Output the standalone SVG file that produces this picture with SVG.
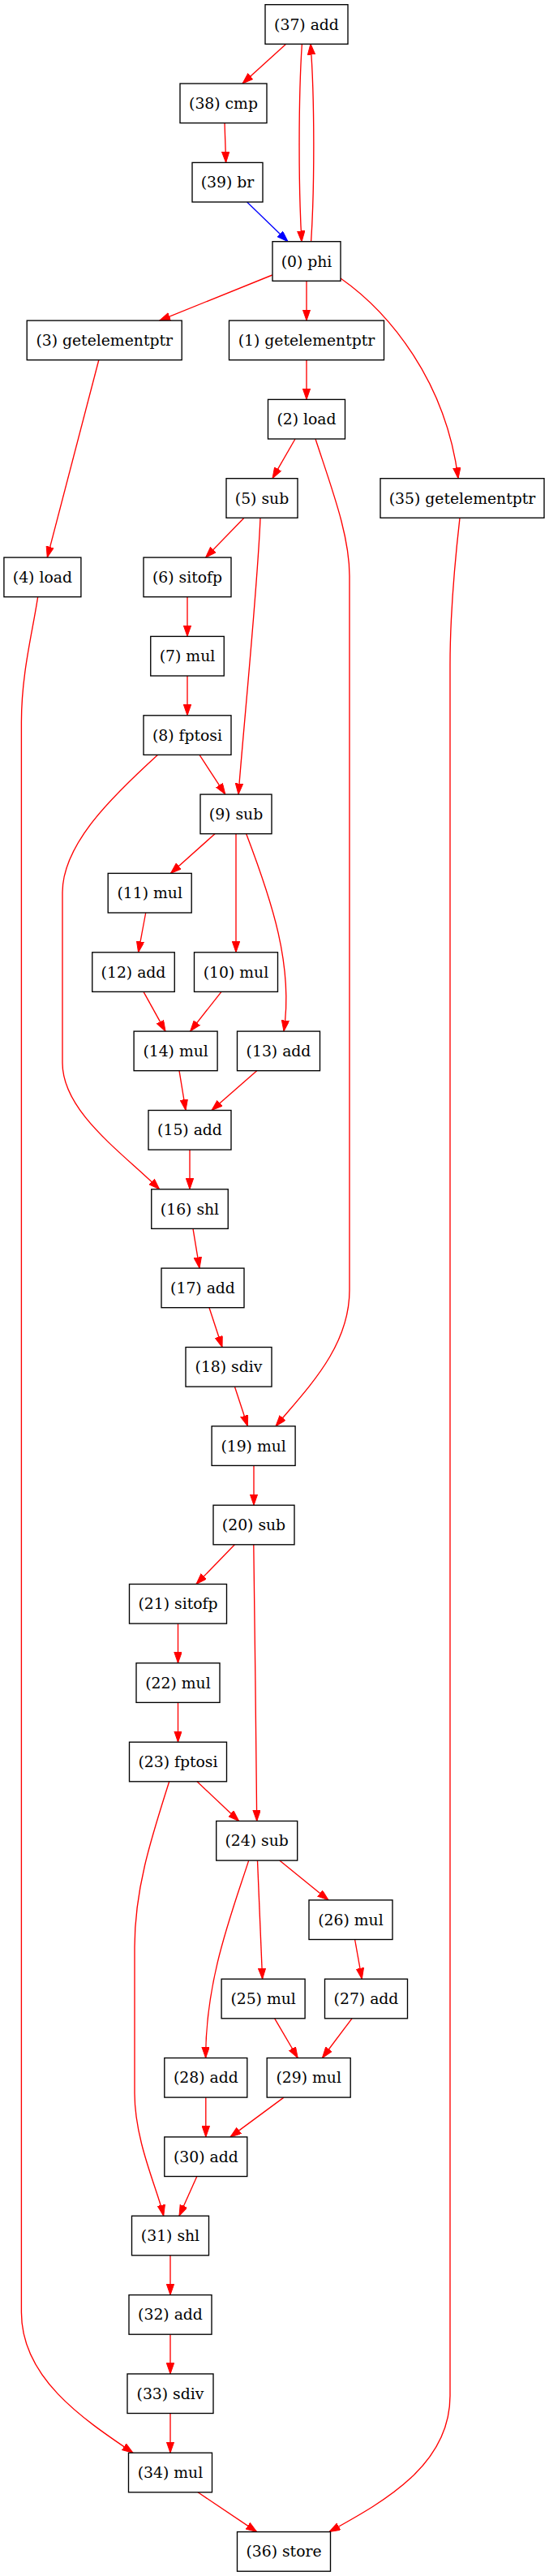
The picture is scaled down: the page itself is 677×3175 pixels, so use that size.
<svg xmlns="http://www.w3.org/2000/svg" width="677" height="3175" viewBox="0 0 677 3175">
<style>
.n rect{fill:#fff;stroke:#000;stroke-width:1.35}
.n text{font-family:"DejaVu Serif",serif;font-size:18.8px;text-anchor:middle;fill:#000}
.e path{fill:none;stroke:#f00;stroke-width:1.35}
.e path.b{stroke:#00f}
</style>
<defs>
<marker id="ar" markerUnits="userSpaceOnUse" markerWidth="14" markerHeight="10" refX="13.5" refY="4.7" orient="auto"><path d="M0,0L13.5,4.7L0,9.4z" fill="#f00" stroke="#f00" stroke-width="1"/></marker>
<marker id="ab" markerUnits="userSpaceOnUse" markerWidth="14" markerHeight="10" refX="13.5" refY="4.7" orient="auto"><path d="M0,0L13.5,4.7L0,9.4z" fill="#00f" stroke="#00f" stroke-width="1"/></marker>
</defs>
<rect width="677" height="3175" fill="#fff"/>
<g id="edges" class="e">
<path marker-end="url(#ar)" d="M353,54L299,103"/>
<path marker-end="url(#ar)" d="M372.4,54C368,120 368,230 372,298"/>
<path marker-end="url(#ar)" d="M383.6,298C388,230 388,120 383,54"/>
<path marker-end="url(#ar)" d="M277,151L278.6,200.4"/>
<path class="b" marker-end="url(#ab)" d="M304.6,249L355,297.7"/>
<path marker-end="url(#ar)" d="M335.7,339L196.6,395.1"/>
<path marker-end="url(#ar)" d="M378,346L378,395.1"/>
<path marker-end="url(#ar)" d="M420,343C480,385 550,470 565,589.7"/>
<path marker-end="url(#ar)" d="M122,443L58.3,687.1"/>
<path marker-end="url(#ar)" d="M378,443.5L378,492.4"/>
<path marker-end="url(#ar)" d="M364,541L336,589.7"/>
<path marker-end="url(#ar)" d="M389,541C410,605 431,660 431,710L431,1590C431,1660 380,1710 340,1757.8"/>
<path marker-end="url(#ar)" d="M301,638.3L253.6,687.1"/>
<path marker-end="url(#ar)" d="M321,638.3C318,720 300,900 294,979.1"/>
<path marker-end="url(#ar)" d="M567,638.3C560,700 555,760 555,820L555,2953C555,3040 470,3085 406,3120.6"/>
<path marker-end="url(#ar)" d="M46.7,735.4C40,780 26.4,830 26.4,890L26.4,2850C26.4,2930 100,2980 164,3023.2"/>
<path marker-end="url(#ar)" d="M231,735.4L231,784.4"/>
<path marker-end="url(#ar)" d="M231,833L231,881.8"/>
<path marker-end="url(#ar)" d="M246,930.4L277.8,979.1"/>
<path marker-end="url(#ar)" d="M194.4,930.4C140,980 77,1040 77,1100L77,1310C77,1370 150,1420 196.6,1465.8"/>
<path marker-end="url(#ar)" d="M265,1027.7L210.4,1076.4"/>
<path marker-end="url(#ar)" d="M291,1027.7L291,1173.8"/>
<path marker-end="url(#ar)" d="M303.7,1027.7C335,1110 362,1190 350,1271.1"/>
<path marker-end="url(#ar)" d="M179.7,1125L170.6,1173.8"/>
<path marker-end="url(#ar)" d="M177,1222.4L204,1271.1"/>
<path marker-end="url(#ar)" d="M273,1222.4L234.6,1271.1"/>
<path marker-end="url(#ar)" d="M221,1319.7L229,1368.5"/>
<path marker-end="url(#ar)" d="M316.7,1319.7L261,1368.5"/>
<path marker-end="url(#ar)" d="M234,1417L234,1465.8"/>
<path marker-end="url(#ar)" d="M238,1514.4L246,1563.1"/>
<path marker-end="url(#ar)" d="M258,1611.7L274,1660.5"/>
<path marker-end="url(#ar)" d="M289.4,1709L305.4,1757.8"/>
<path marker-end="url(#ar)" d="M313,1806.4L313,1855.2"/>
<path marker-end="url(#ar)" d="M289.4,1903.8L242,1952.5"/>
<path marker-end="url(#ar)" d="M312.8,1903.8C314,2000 316,2150 316.7,2244.5"/>
<path marker-end="url(#ar)" d="M219.5,2001L219.5,2049.8"/>
<path marker-end="url(#ar)" d="M219.5,2098.4L219.5,2147.2"/>
<path marker-end="url(#ar)" d="M243,2195.8L294.6,2244.5"/>
<path marker-end="url(#ar)" d="M208.7,2195.8C185,2270 166,2330 166,2400L166,2580C166,2640 195,2700 201.7,2731.2"/>
<path marker-end="url(#ar)" d="M344.7,2293.1L405,2341.9"/>
<path marker-end="url(#ar)" d="M317.5,2293.1L323.6,2439.2"/>
<path marker-end="url(#ar)" d="M306.7,2293.1C285,2360 253.6,2440 253.6,2536.5"/>
<path marker-end="url(#ar)" d="M437.6,2390.5L446.3,2439.2"/>
<path marker-end="url(#ar)" d="M338.7,2487.8L367.2,2536.5"/>
<path marker-end="url(#ar)" d="M434,2487.8L397.4,2536.5"/>
<path marker-end="url(#ar)" d="M253.8,2585.1L253.8,2633.9"/>
<path marker-end="url(#ar)" d="M350,2585.1L284,2633.9"/>
<path marker-end="url(#ar)" d="M242.8,2682.5L221,2731.2"/>
<path marker-end="url(#ar)" d="M210,2779.8L210,2828.6"/>
<path marker-end="url(#ar)" d="M210,2877.2L210,2925.9"/>
<path marker-end="url(#ar)" d="M210,2974.5L210,3023.2"/>
<path marker-end="url(#ar)" d="M244,3071.8L316.7,3120.6"/>
</g>
<g id="node37" class="n"><rect x="327" y="5.7" width="102" height="48.6"/><text x="378" y="36.5">(37) add</text></g>
<g id="node38" class="n"><rect x="222" y="103" width="107" height="48.6"/><text x="275.5" y="133.8">(38) cmp</text></g>
<g id="node39" class="n"><rect x="237" y="200.4" width="87" height="48.6"/><text x="280.5" y="231.2">(39) br</text></g>
<g id="node0" class="n"><rect x="336" y="297.7" width="84" height="48.6"/><text x="378" y="328.5">(0) phi</text></g>
<g id="node3" class="n"><rect x="33.2" y="395.1" width="191" height="48.6"/><text x="128.7" y="425.9">(3) getelementptr</text></g>
<g id="node1" class="n"><rect x="282.5" y="395.1" width="191" height="48.6"/><text x="378" y="425.9">(1) getelementptr</text></g>
<g id="node2" class="n"><rect x="330.5" y="492.4" width="95" height="48.6"/><text x="378" y="523.2">(2) load</text></g>
<g id="node5" class="n"><rect x="279" y="589.7" width="88" height="48.6"/><text x="323" y="620.5">(5) sub</text></g>
<g id="node35" class="n"><rect x="469" y="589.7" width="202" height="48.6"/><text x="570" y="620.5">(35) getelementptr</text></g>
<g id="node4" class="n"><rect x="4.9" y="687.1" width="95" height="48.6"/><text x="52.4" y="717.9">(4) load</text></g>
<g id="node6" class="n"><rect x="177" y="687.1" width="108" height="48.6"/><text x="231" y="717.9">(6) sitofp</text></g>
<g id="node7" class="n"><rect x="185.75" y="784.4" width="90.5" height="48.6"/><text x="231" y="815.2">(7) mul</text></g>
<g id="node8" class="n"><rect x="177" y="881.8" width="108" height="48.6"/><text x="231" y="912.6">(8) fptosi</text></g>
<g id="node9" class="n"><rect x="247" y="979.1" width="88" height="48.6"/><text x="291" y="1009.9">(9) sub</text></g>
<g id="node11" class="n"><rect x="133.2" y="1076.4" width="103" height="48.6"/><text x="184.7" y="1107.2">(11) mul</text></g>
<g id="node12" class="n"><rect x="113.75" y="1173.8" width="101.5" height="48.6"/><text x="164.5" y="1204.6">(12) add</text></g>
<g id="node10" class="n"><rect x="239.5" y="1173.8" width="103" height="48.6"/><text x="291" y="1204.6">(10) mul</text></g>
<g id="node14" class="n"><rect x="165.1" y="1271.1" width="103" height="48.6"/><text x="216.6" y="1301.9">(14) mul</text></g>
<g id="node13" class="n"><rect x="292.5" y="1271.1" width="102" height="48.6"/><text x="343.5" y="1301.9">(13) add</text></g>
<g id="node15" class="n"><rect x="183" y="1368.5" width="102" height="48.6"/><text x="234" y="1399.3">(15) add</text></g>
<g id="node16" class="n"><rect x="186.75" y="1465.8" width="94.5" height="48.6"/><text x="234" y="1496.6">(16) shl</text></g>
<g id="node17" class="n"><rect x="199" y="1563.1" width="102" height="48.6"/><text x="250" y="1593.9">(17) add</text></g>
<g id="node18" class="n"><rect x="229" y="1660.5" width="106" height="48.6"/><text x="282" y="1691.3">(18) sdiv</text></g>
<g id="node19" class="n"><rect x="261.1" y="1757.8" width="103" height="48.6"/><text x="312.6" y="1788.6">(19) mul</text></g>
<g id="node20" class="n"><rect x="263" y="1855.2" width="100" height="48.6"/><text x="313" y="1886">(20) sub</text></g>
<g id="node21" class="n"><rect x="159.5" y="1952.5" width="120" height="48.6"/><text x="219.5" y="1983.3">(21) sitofp</text></g>
<g id="node22" class="n"><rect x="168" y="2049.8" width="103" height="48.6"/><text x="219.5" y="2080.6">(22) mul</text></g>
<g id="node23" class="n"><rect x="159.5" y="2147.2" width="120" height="48.6"/><text x="219.5" y="2178">(23) fptosi</text></g>
<g id="node24" class="n"><rect x="266.7" y="2244.5" width="100" height="48.6"/><text x="316.7" y="2275.3">(24) sub</text></g>
<g id="node26" class="n"><rect x="381" y="2341.9" width="103" height="48.6"/><text x="432.5" y="2372.7">(26) mul</text></g>
<g id="node25" class="n"><rect x="273.1" y="2439.2" width="103" height="48.6"/><text x="324.6" y="2470">(25) mul</text></g>
<g id="node27" class="n"><rect x="400.5" y="2439.2" width="102" height="48.6"/><text x="451.5" y="2470">(27) add</text></g>
<g id="node28" class="n"><rect x="202.8" y="2536.5" width="102" height="48.6"/><text x="253.8" y="2567.3">(28) add</text></g>
<g id="node29" class="n"><rect x="329.2" y="2536.5" width="103" height="48.6"/><text x="380.7" y="2567.3">(29) mul</text></g>
<g id="node30" class="n"><rect x="202.8" y="2633.9" width="102" height="48.6"/><text x="253.8" y="2664.7">(30) add</text></g>
<g id="node31" class="n"><rect x="162.5" y="2731.2" width="95" height="48.6"/><text x="210" y="2762">(31) shl</text></g>
<g id="node32" class="n"><rect x="159" y="2828.6" width="102" height="48.6"/><text x="210" y="2859.4">(32) add</text></g>
<g id="node33" class="n"><rect x="157" y="2925.9" width="106" height="48.6"/><text x="210" y="2956.7">(33) sdiv</text></g>
<g id="node34" class="n"><rect x="158.5" y="3023.2" width="103" height="48.6"/><text x="210" y="3054">(34) mul</text></g>
<g id="node36" class="n"><rect x="292.5" y="3120.6" width="115" height="48.6"/><text x="350" y="3151.4">(36) store</text></g>
</svg>
